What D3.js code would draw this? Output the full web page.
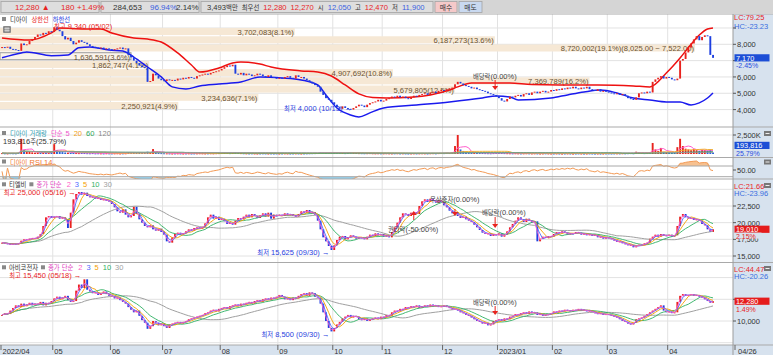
<!DOCTYPE html>
<html><head><meta charset="utf-8">
<script src="https://cdn.jsdelivr.net/npm/d3@7"></script>
<style>
body{margin:0;background:#fff;}
text{font-family:"Liberation Sans","Noto Sans CJK KR",sans-serif;}
</style>
</head><body>
<svg id="c" width="773" height="355"></svg>
<script>
// ---------------- DATA ----------------
const monthLabels = ["2022/04","05","06","07","08","09","10","11","12","2023/01","02","03","04"];
const monthDays   = [19,21,19,21,21,20,18,22,20,20,20,22,17];
const lastDateLabel = "04/26";

// 디아이 closes
const diClose = [
 7830,7800,7850,7720,7700,7650,7600,8050,7950,8000,8200,8300,8450,8600,8550,8700,8650,8800,8750,
 9050,8900,8800,8500,8300,8400,8200,8000,8100,8250,8150,8100,8000,7900,7850,7800,7750,7800,7700,7750,7700,
 7650,7700,7750,7800,7700,7750,7350,7200,7000,6850,6700,6600,6550,5700,5750,6200,6100,5900,5800,
 5750,5850,5800,5820,5780,5900,5850,5950,5900,6000,5950,5900,6050,6100,6150,6200,6150,6250,6300,6350,6400,
 6500,6600,6700,6650,6750,6200,6150,6250,6100,6200,6150,6050,6100,6200,6150,6050,6000,6100,6000,5950,5900,
 5950,5900,6000,6050,5950,5900,6100,6000,6000,5900,5800,5700,5600,5500,5400,5100,4900,4700,4600,4450,
 4300,4150,4050,4200,4100,4050,4000,4100,4200,4300,4250,4150,4300,4400,4450,4500,4600,4500,
 4550,4650,4700,4800,4750,4850,4750,4800,4700,4650,4750,4850,4800,4900,4950,5000,4900,5050,5100,5000,5150,5200,
 5150,5250,5300,5350,5550,5700,5600,5500,5450,5400,5300,5350,5250,5200,5150,5100,5000,4950,4900,4800,
 4700,4550,4500,4650,4800,4750,4850,4900,4800,4950,5000,4900,5050,5100,5000,5100,5150,5050,5100,5200,
 5150,5250,5200,5300,5250,5350,5300,5400,5300,5250,5350,5300,5400,5250,5200,5150,5250,5100,5150,5100,
 5050,5000,4950,5000,4900,4950,4850,4700,4650,4600,4750,5000,5050,5000,5100,5050,5700,5850,5950,6050,5900,6000,
 5950,5850,5800,5900,7000,7100,7500,7800,8050,8300,8500,8250,8450,8550,8500,7350,7170
];
// 디아이 volume (thousand shares)
const diVolK = [
 120,90,80,110,100,90,150,2000,500,300,260,220,180,200,150,170,160,140,300,
 1300,500,300,250,200,180,150,160,140,120,150,130,110,100,120,90,100,90,80,100,90,
 80,90,100,80,90,100,250,200,180,150,160,140,150,300,200,650,250,150,120,
 100,90,80,70,80,90,80,70,80,90,70,80,90,100,90,80,90,100,90,110,120,
 130,150,140,120,130,200,150,120,100,90,80,90,80,70,80,90,80,70,80,70,80,
 70,80,90,80,70,80,90,80,70,80,90,100,110,120,130,200,180,160,150,170,
 180,150,160,140,120,150,200,180,140,120,110,100,110,120,100,90,100,90,
 90,100,90,80,90,100,80,90,80,70,80,90,80,90,100,90,80,100,110,90,120,130,
 120,150,130,180,1050,2500,600,400,300,250,200,180,150,140,130,120,110,100,120,150,
 150,130,120,110,100,90,100,90,80,90,100,90,80,90,80,70,80,90,80,70,
 70,80,70,60,70,80,70,60,70,80,70,60,70,80,70,60,70,60,70,80,
 80,70,80,90,80,100,90,110,120,100,300,200,150,120,130,200,1450,600,400,800,300,250,
 200,180,150,900,2000,1050,700,600,500,650,500,400,550,500,450,600,193.816
];
// 디아이 상한선 / 하한선 (read at candle indices)
const upperIdx = [0,10,18,21,30,36,40,48,53,58,64,69,72,79,84,87,94,98,109,115,120,125,130,135,140,150,156,163,166,171,178,185,193,203,217,230,236,242,247,251,254,257,259];
const upperVal = [8390,8260,8700,9000,8940,8940,8690,8390,8320,8140,7470,6730,6300,6550,6860,6920,6790,6610,6370,6300,6060,5510,4960,4740,4710,4770,4900,5200,5390,5630,5630,5630,5530,5510,5510,5450,5390,6240,7160,8000,8570,8940,9000];
const lowerIdx = [0,7,9,18,24,28,32,39,44,48,53,58,62,67,72,79,87,94,102,109,115,118,122,127,130,134,139,151,163,175,180,185,188,200,206,212,218,224,230,236,242,247,251,254,257,259];
const lowerVal = [7180,7470,7530,7300,7345,7790,7835,7650,7590,7220,6610,6000,5390,5260,5450,5570,5690,6000,5940,5815,5510,4900,4100,3670,3550,3800,4100,4285,4470,4710,4840,4775,4590,4710,4900,5080,5200,5020,4710,4590,4470,4470,4285,4410,4710,5020];
// 매물대 (price-volume profile), bottom band first
const profileBase = 4001, profileStep = 503;
const profileVol = [2250921,3234636,5679805,7369789,4907692,1862747,1636591,8720002,6187273,3702083];
const profilePct = [4.9,7.1,12.5,16.2,10.8,4.1,3.6,19.1,13.6,8.1];

// 티엘비 closes
const tlbClose = [
 17000,16900,16800,16700,16850,16750,16900,17300,17500,17400,17600,17700,17600,17900,18300,19500,20800,21000,20700,
 20900,21000,20600,20800,20500,19200,21500,23500,24300,24600,24200,24500,24000,23800,23900,23600,23700,23400,23500,23300,23200,
 22800,22300,21700,21500,22000,21200,20800,21000,22400,21300,20500,20000,19500,19300,19600,19000,18800,19100,18600,
 18200,17200,17000,17800,18300,18500,18200,18400,18700,19000,18800,19200,19300,19100,19400,19900,20800,21200,20600,20900,20400,
 20600,20200,19800,20000,19700,20300,20700,20500,20900,21200,20800,21300,21000,20700,21100,21400,20900,21500,20600,21200,21000,
 21200,21000,21400,21100,21300,21000,20900,21300,21700,21500,21900,21400,21600,21200,20300,19000,17800,17200,16500,15900,
 16600,17400,17900,18000,17500,17800,18100,17900,17600,17800,17700,17500,17900,18200,18000,18400,18100,18300,
 17900,18100,17800,18600,19300,20000,20800,21400,21300,21000,21500,21600,21300,22500,23200,23500,23100,23600,23300,23000,23400,23100,
 22600,22300,21800,21400,21600,21000,20700,20900,20500,20300,20100,19700,19300,18900,18500,18300,18400,18000,18300,18100,
 18400,17900,18200,18700,19300,19800,20300,20800,20500,20100,20600,20300,20000,20200,17200,17600,17900,17700,18000,17900,
 18300,18600,18400,18700,18500,18200,18400,18300,18600,18500,18200,18400,18100,18300,18000,18200,17800,17900,17600,17800,
 17700,17500,17300,17100,17200,16900,16800,16600,16700,16300,16500,16700,16600,16900,17000,17600,17900,18200,17900,18300,18100,18000,
 18200,17900,18100,19500,20900,21300,20800,20600,20700,20400,20500,20300,19800,19600,19000,18610,19010
];
// 아비코전자 closes
const abcClose = [
 10700,10900,10800,11200,11500,11800,11600,12000,11700,11900,12100,11800,12000,11900,12200,11800,12100,12000,12300,
 12600,12800,12500,12700,12900,12400,12200,12300,13500,14200,13800,14800,13600,13400,13200,13300,13000,13200,13400,13100,12900,
 12900,12600,12700,12400,12200,12000,11600,11300,11000,11200,10600,10100,9800,9100,9400,10000,9800,9500,9700,
 9400,9200,9600,9700,9800,9900,9700,9900,10000,10200,10300,10400,10500,10600,10700,10900,11000,11200,11300,11100,11400,
 11500,11600,11400,11700,11800,11900,11700,12000,11900,12100,12200,12000,12300,12400,12200,12500,12600,12400,12700,12600,12800,
 13000,12800,12500,12600,12400,12700,12600,12900,13100,13200,12900,13300,13200,12800,12700,12000,11000,10000,9200,8800,
 9200,9600,9900,10300,10500,10700,10400,10600,10500,10200,10100,10300,10000,10200,10300,10400,10200,10500,
 10400,10700,10600,11000,11200,11100,11400,11300,11600,11500,11700,11600,11800,11500,11700,11800,11600,11900,11700,11800,11600,11700,
 11800,11600,11500,11300,11400,11200,11000,10900,10700,10600,10400,10200,10000,9900,9700,9800,9500,9600,10000,10100,
 10200,10000,10300,10200,10500,10600,10800,10700,10900,11000,10800,11100,10900,11000,10700,10800,10600,10700,10800,10900,
 11100,11000,11200,11100,11300,11200,11100,11300,11200,11400,11200,11300,11100,11200,11000,10900,10800,10900,10700,10800,
 10700,10600,10500,10400,10200,10000,9900,9700,9600,9800,10200,10300,10400,10600,10800,11000,11200,11400,11600,11800,11200,11000,
 11100,10900,11000,12200,12900,13100,12900,13000,13100,12900,13000,12800,12700,12500,12300,12100,12280
];
const maPeriods = [2,3,5,10,30];
const volMaPeriods = [5,20,60,120];

// ---------------- DRAW ----------------
const svg = d3.select("#c");
const W = 773, AX = 733;
const RED = "#e8231e", BLUE = "#1d3fe0", LBLUE = "#2a3ee0";
const N = diClose.length;
const x = d3.scaleLinear().domain([0, N - 1]).range([2, 713]);
const monthStart = d3.cumsum([0, ...monthDays.slice(0, -1)]);
const fmt = d3.format(",");

const yMain = d3.scaleLinear().domain([4000, 8000]).range([109.6, 44.3]);
const yVol  = d3.scaleLinear().domain([0, 2500]).range([154, 135]);
const yRsi  = d3.scaleLinear().domain([30, 70]).range([176.7, 166]);
const yTlb  = d3.scaleLinear().domain([15000, 22500]).range([256, 206]);
const yAbc  = d3.scaleLinear().domain([10000, 12500]).range([321, 299.3]);

const HANGUL = /[\uAC00-\uD7A3\u3131-\u318E]/;
function txt(g, px, py, s, color, size, anchor) {
  size = size || 7.5;
  const t = g.append("text").attr("x", px).attr("y", py).attr("fill", color || "#333")
    .attr("font-size", size).attr("text-anchor", anchor || "start")
    .attr("dominant-baseline", "central");
  const runs = s.match(/[\uAC00-\uD7A3\u3131-\u318E]+|[^\uAC00-\uD7A3\u3131-\u318E]+/g) || [];
  runs.forEach(r => t.append("tspan").attr("font-size", HANGUL.test(r) ? size * 0.84 : size).text(r));
  return t;
}
function seq(g, x0, py, parts, gap) {
  let cx = x0;
  parts.forEach(p => {
    if (p[0] === "■") { g.append("rect").attr("x", cx).attr("y", py - 2).attr("width", 4).attr("height", 4).attr("fill", "#888"); cx += 4 + gap; return; }
    const t = txt(g, cx, py, p[0], p[1], p[2]);
    cx += t.node().getComputedTextLength() + (p[3] !== undefined ? p[3] : gap);
  });
  return cx;
}
function ma(arr, n) {
  return arr.map((v, i) => d3.mean(arr.slice(Math.max(0, i - n + 1), i + 1)));
}
function rsi(arr, n) {
  let ag = 0, al = 0; const out = [50];
  for (let i = 1; i < arr.length; i++) {
    const d = arr[i] - arr[i - 1], k = Math.min(i, n);
    ag = (ag * (k - 1) + Math.max(d, 0)) / k;
    al = (al * (k - 1) + Math.max(-d, 0)) / k;
    out.push(al === 0 ? 100 : 100 - 100 / (1 + ag / al));
  }
  return out;
}

// clip paths
const defs = svg.append("defs");
const clips = {main:[14.5,112.5], vol:[127.5,30], rsi:[158,21], tlb:[179.5,83], abc:[263,82]};
Object.entries(clips).forEach(([k, v]) => {
  defs.append("clipPath").attr("id", "cl-" + k).append("rect").attr("x", 0).attr("y", v[0]).attr("width", AX).attr("height", v[1]);
});

// backgrounds
svg.append("rect").attr("x", 0).attr("y", 0).attr("width", W).attr("height", 355).attr("fill", "#fff");
svg.append("rect").attr("x", AX).attr("y", 14).attr("width", W - AX).attr("height", 331).attr("fill", "#d7e2ee");
svg.append("rect").attr("x", 0).attr("y", 345).attr("width", W).attr("height", 10).attr("fill", "#d7e2ee");

// vertical month grid
monthStart.slice(1).forEach(s => {
  svg.append("line").attr("x1", x(s) - 1.4).attr("x2", x(s) - 1.4).attr("y1", 14).attr("y2", 345).attr("stroke", "#e2e2e2");
});
function hgrid(vals, y) { vals.forEach(v => svg.append("line").attr("x1", 0).attr("x2", AX).attr("y1", y(v)).attr("y2", y(v)).attr("stroke", "#e2e2e2")); }
hgrid([4000,5000,6000,7000,8000,9000], yMain);
hgrid([15000,17500,20000,22500,25000], yTlb);
hgrid([7500,10000,12500,15000], yAbc);
hgrid([2500], yVol);

// ---- main panel
const gM = svg.append("g").attr("clip-path", "url(#cl-main)");
const profX = d3.scaleLinear().domain([0, d3.max(profilePct)]).range([0, 695]);
const lastDi = diClose[N - 1];
const maxK = profilePct.indexOf(d3.max(profilePct));
profileVol.forEach((v, k) => {
  const lo = profileBase + k * profileStep, hi = lo + profileStep;
  const y1 = yMain(hi) + 0.6, y2 = yMain(lo) - 0.6, w = profX(profilePct[k]);
  const cur = lastDi >= lo && lastDi < hi;
  gM.append("rect").attr("x", 0).attr("y", y1).attr("width", w).attr("height", y2 - y1)
    .attr("fill", cur ? "#faf3ea" : "#f6e8d5").attr("stroke", cur ? "#9a9a9a" : "none");
  let lab = fmt(v) + "(" + profilePct[k].toFixed(1) + "%)";
  if (k === maxK) lab += "(" + d3.format(",.2f")(hi) + " ~ " + d3.format(",.2f")(lo) + ")";
  txt(gM, w - 1, (y1 + y2) / 2 + 0.5, lab, "#6a5232", 7.6, "end");
});
const lineGen = (y) => d3.line().x(d => x(d[0])).y(d => y(d[1]));
gM.append("path").attr("d", lineGen(yMain).curve(d3.curveMonotoneX)(upperIdx.map((d, i) => [d, upperVal[i]])))
  .attr("fill", "none").attr("stroke", "#ee1111").attr("stroke-width", 1.5);
gM.append("path").attr("d", lineGen(yMain).curve(d3.curveMonotoneX)(lowerIdx.map((d, i) => [d, lowerVal[i]])))
  .attr("fill", "none").attr("stroke", "#1a1aee").attr("stroke-width", 1.5);

function candles(g, closes, y) {
  g.selectAll(null).data(closes).enter().append("rect")
    .attr("x", (d, i) => x(i) - 0.9).attr("width", 1.9)
    .attr("y", (d, i) => y(Math.max(d, i ? closes[i - 1] : d)))
    .attr("height", (d, i) => Math.max(1, Math.abs(y(d) - y(i ? closes[i - 1] : d))))
    .attr("fill", (d, i) => d >= (i ? closes[i - 1] : d) ? RED : BLUE);
}
candles(gM, diClose, yMain);

function arrow(g, px, y1, y2) {
  const dir = y2 > y1 ? 1 : -1;
  g.append("line").attr("x1", px).attr("x2", px).attr("y1", y1).attr("y2", y2 - dir * 3).attr("stroke", RED).attr("stroke-width", 1);
  g.append("path").attr("d", `M${px - 3},${y2 - dir * 4}L${px + 3},${y2 - dir * 4}L${px},${y2}Z`).attr("fill", RED);
}
const exDivIdx = 180, rightsIdx = 150, bonusIdx = 165;
txt(svg, 473, 75.5, "배당락(0.00%)", "#444");
arrow(svg, x(exDivIdx) - 1, 80, 90);
txt(svg, 54, 25.5, "최고 9,340 (05/02)", RED);
txt(svg, 352, 108, "최저 4,000 (10/13) →", LBLUE, 7.5, "end");

// main title
seq(svg, 2, 19, [["■"], ["디아이", "#333"], ["상한선", RED], ["하한선", LBLUE]], 4);
svg.append("rect").attr("x", 3).attr("y", 26).attr("width", 8).attr("height", 7).attr("fill", "#8a8a8a").attr("rx", 1);
svg.append("path").attr("d", "M4.5,28.5h5M4.5,30.5h5M6,27v5M8,27v5").attr("stroke", "#ddd").attr("stroke-width", 0.7);

// ---- volume panel
const gV = svg.append("g").attr("clip-path", "url(#cl-vol)");
gV.selectAll(null).data(diVolK).enter().append("rect")
  .attr("x", (d, i) => x(i) - 0.9).attr("width", 1.9)
  .attr("y", d => yVol(d)).attr("height", d => Math.max(1, yVol(0) - yVol(d)))
  .attr("fill", (d, i) => diClose[i] >= (i ? diClose[i - 1] : diClose[i]) ? RED : "#2a63d8");
const volMaColors = ["#ff5ccc", "#f2b233", "#2ea65a", "#9a9a9a"];
volMaPeriods.forEach((p, k) => {
  gV.append("path").attr("d", d3.line().x((d, i) => x(i)).y(d => yVol(d))(ma(diVolK, p)))
    .attr("fill", "none").attr("stroke", volMaColors[k]).attr("stroke-width", 1);
});
seq(svg, 2, 133, [["■"], ["디아이 거래량", "#2a9bb0"], ["단순", "#ee55cc", 7.5, 3],
  [String(volMaPeriods[0]), "#ee55cc"], [String(volMaPeriods[1]), "#f2a020"], [String(volMaPeriods[2]), "#2ea65a"], [String(volMaPeriods[3]), "#888"]], 4);
txt(svg, 3, 140.8, "193,816주(25.79%)", "#333");

// ---- RSI panel
const gR = svg.append("g").attr("clip-path", "url(#cl-rsi)");
const rs = rsi(diClose, 14);
gR.append("path").attr("d", d3.area().x((d, i) => x(i)).y0(yRsi(70)).y1(d => yRsi(Math.max(d, 70)))(rs)).attr("fill", "#f7c190");
gR.append("path").attr("d", d3.area().x((d, i) => x(i)).y0(yRsi(30)).y1(d => yRsi(Math.min(d, 30)))(rs)).attr("fill", "#96d2ee");
[30, 70].forEach(v => svg.append("line").attr("x1", 0).attr("x2", AX).attr("y1", yRsi(v)).attr("y2", yRsi(v)).attr("stroke", "#a8a8a8"));
gR.append("path").attr("d", d3.line().x((d, i) => x(i)).y(d => yRsi(d))(rs)).attr("fill", "none").attr("stroke", "#f39a55").attr("stroke-width", 1);
seq(svg, 2, 161.5, [["■"], ["디아이 RSI 14", "#f07830"]], 4);

// ---- price panels with MAs
const maColors = ["#ff5cc8", "#4f6bff", "#f5a000", "#2fb062", "#a0a0a0"];
function pricePanel(gid, closes, y) {
  const g = svg.append("g").attr("clip-path", `url(#cl-${gid})`);
  candles(g, closes, y);
  maPeriods.slice().reverse().forEach((p) => {
    const k = maPeriods.indexOf(p);
    g.append("path").attr("d", d3.line().x((d, i) => x(i)).y(d => y(d))(ma(closes, p)))
      .attr("fill", "none").attr("stroke", maColors[k]).attr("stroke-width", p === 30 ? 1 : 0.9);
  });
  return g;
}
pricePanel("tlb", tlbClose, yTlb);
pricePanel("abc", abcClose, yAbc);

function maTitle(py, name) {
  const parts = [["■"], [name, "#333"], ["■"], ["종가 단순", "#e040c0", 7.5, 5]];
  maPeriods.forEach((p, k) => parts.push([String(p), maColors[k], 7.5, 4]));
  seq(svg, 2, py, parts, 3);
}
maTitle(184.3, "티엘비");
maTitle(267.3, "아비코전자");

txt(svg, x(28) - 3, 192, "최고 25,000 (05/16) →", RED, 7.5, "end");
txt(svg, x(120) - 2, 252, "최저 15,625 (09/30) →", LBLUE, 7.5, "end");
txt(svg, x(30) - 3, 275, "최고 15,450 (05/18) →", RED, 7.5, "end");
txt(svg, x(120) - 2, 334, "최저 8,500 (09/30) →", LBLUE, 7.5, "end");
// events panel 3 / 4
txt(svg, 430, 199, "무상증자(0.00%)", "#444");
arrow(svg, x(bonusIdx), 209, 216);
txt(svg, 388, 228.5, "권리락(-50.00%)", "#444");
arrow(svg, x(rightsIdx), 220, 211);
txt(svg, 482, 212, "배당락(0.00%)", "#444");
arrow(svg, x(exDivIdx) - 1, 217, 228);
txt(svg, 473, 301.7, "배당락(0.00%)", "#444");
arrow(svg, x(exDivIdx) - 1, 306, 315);

// ---- separators
[14, 127, 157.5, 179, 262.5, 345].forEach(v => svg.append("line").attr("x1", 0).attr("x2", W).attr("y1", v).attr("y2", v).attr("stroke", "#a9a9a9"));
svg.append("line").attr("x1", AX).attr("x2", AX).attr("y1", 14).attr("y2", 355).attr("stroke", "#9c9c9c");

// ---- right axis
function tick(y, label, size) {
  svg.append("line").attr("x1", AX).attr("x2", AX + 3).attr("y1", y).attr("y2", y).attr("stroke", "#555");
  if (label) txt(svg, AX + 4, y, label, "#333", size || 7.5);
}
function vbox(y, label, fill) {
  svg.append("rect").attr("x", AX + 1.5).attr("y", y - 3.6).attr("width", 35).attr("height", 7.2).attr("fill", fill);
  txt(svg, AX + 3, y, label, "#fff", 7.3);
}
function pct(y, label, color) {
  svg.append("rect").attr("x", AX + 1.5).attr("y", y - 3).attr("width", 27).attr("height", 6).attr("fill", "#d7e2ee");
  txt(svg, AX + 3, y, label, color, 7);
}
function icon(y) {
  svg.append("rect").attr("x", 764).attr("y", y - 2.5).attr("width", 7).attr("height", 5).attr("fill", "#777");
  svg.append("line").attr("x1", 765.5).attr("x2", 769.5).attr("y1", y).attr("y2", y).attr("stroke", "#eee");
}
// main
txt(svg, AX + 1, 16.5, "LC:79.25", RED); txt(svg, AX + 1, 25.5, "HC:-23.23", "#3a6ee0");
tick(yMain(9000)); [8000, 6000, 5000, 4000].forEach(v => tick(yMain(v), fmt(v))); tick(yMain(7000));
vbox(yMain(lastDi), fmt(lastDi), "#1c4ed6"); pct(65, "-2.45%", "#2a4ee0");
// volume
tick(yVol(2500), "2,500K"); vbox(145.4, "193,816", "#1c4ed6"); pct(153, "25.79%", "#2a4ee0"); icon(133.5);
// rsi
tick(170, "50.00"); icon(162);
// tlb
txt(svg, AX + 1, 185.5, "LC:21.66", RED); txt(svg, AX + 1, 192.5, "HC:-23.96", "#3a6ee0"); icon(185.5);
[22500, 20000, 15000].forEach(v => tick(yTlb(v), fmt(v)));
tick(yTlb(17500), fmt(17500), 7);
vbox(yTlb(tlbClose[N - 1]), fmt(tlbClose[N - 1]), "#e51c1c"); pct(235.6, "2.15%", RED);
// abc
txt(svg, AX + 1, 268.5, "LC:44.47", RED); txt(svg, AX + 1, 275.5, "HC:-20.26", "#3a6ee0"); icon(268.5);
tick(yAbc(12500)); tick(yAbc(10000), "10,000");
vbox(yAbc(abcClose[N - 1]), fmt(abcClose[N - 1]), "#e51c1c"); pct(308.6, "1.49%", RED);

// ---- bottom axis
monthStart.forEach((s, k) => {
  const px = k === 0 ? 1 : x(s) - 1.4;
  svg.append("line").attr("x1", px).attr("x2", px).attr("y1", 345).attr("y2", 350).attr("stroke", "#666");
  txt(svg, px + 1.5, 350.5, monthLabels[k], "#333");
});
svg.append("line").attr("x1", 735).attr("x2", 735).attr("y1", 345).attr("y2", 350).attr("stroke", "#666");
txt(svg, 738, 350.5, lastDateLabel, "#333");

// ---- header bar
svg.append("rect").attr("x", 0).attr("y", 0).attr("width", W).attr("height", 14).attr("fill", "#d5d5d5");
[[1, 99], [101, 199], [201, 433]].forEach(c => svg.append("rect").attr("x", c[0]).attr("y", 1.5).attr("width", c[1] - c[0]).attr("height", 11)
  .attr("fill", "#dedede").attr("stroke", "#a4a4a4").attr("stroke-width", 0.8));
svg.append("rect").attr("x", 435).attr("y", 1.5).attr("width", 22).attr("height", 11).attr("fill", "#f5c9c9").attr("stroke", "#a4a4a4").attr("stroke-width", 0.8);
svg.append("rect").attr("x", 459).attr("y", 1.5).attr("width", 23).attr("height", 11).attr("fill", "#c9d9f0").attr("stroke", "#a4a4a4").attr("stroke-width", 0.8);
txt(svg, 15, 7.3, "12,280 ▲", RED, 8);
txt(svg, 61, 7.3, "180", RED, 8);
txt(svg, 77, 7.3, "+1.49%", RED, 8);
txt(svg, 113, 7.3, "284,653", "#333", 8);
txt(svg, 150, 7.3, "96.94%", "#3a5ee0", 8);
txt(svg, 176, 7.3, "2.14%", "#333", 8);
seq(svg, 207, 7.3, [["3,493백만", "#333"], ["최우선", "#333"], ["12,280", RED], ["12,270", RED], ["시", "#333"],
  ["12,050", "#3a5ee0"], ["고", "#333"], ["12,470", RED], ["저", "#333"], ["11,900", "#3a5ee0"]].map(p => [p[0], p[1], 7.6]), 4);
txt(svg, 446, 7.3, "매수", "#333", 8, "middle");
txt(svg, 470.5, 7.3, "매도", "#333", 8, "middle");
</script>
</body></html>
